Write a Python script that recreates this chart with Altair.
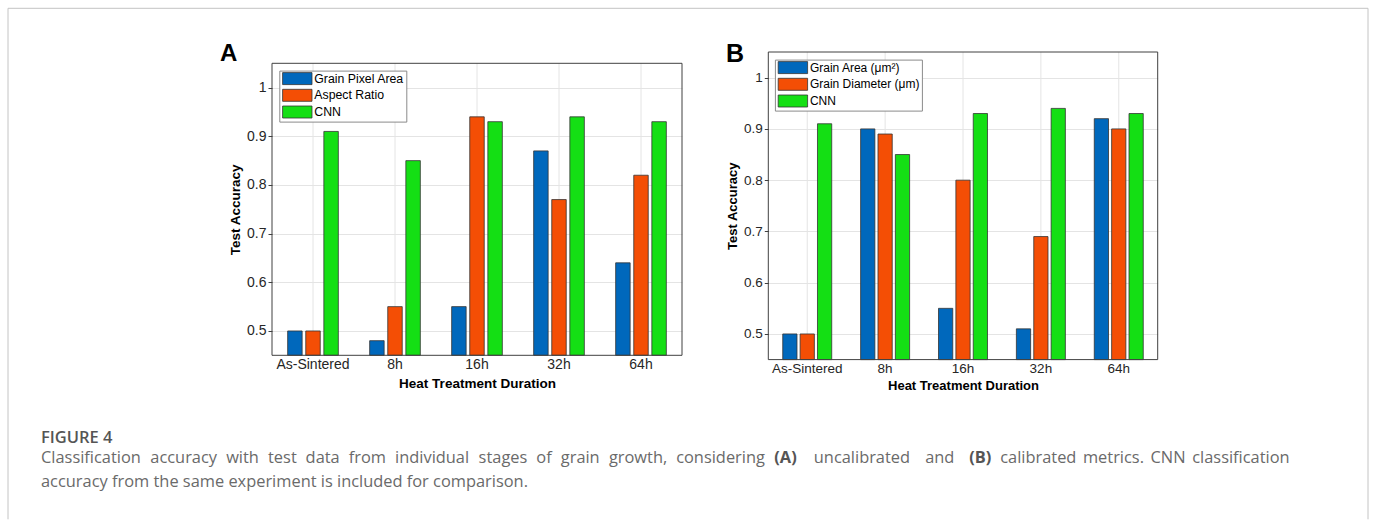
import altair as alt
import pandas as pd

categories = ["As-Sintered", "8h", "16h", "32h", "64h"]

series_a = ["Grain Pixel Area", "Aspect Ratio", "CNN"]
grain_pixel_area = [0.50, 0.48, 0.55, 0.87, 0.64]
aspect_ratio = [0.50, 0.55, 0.94, 0.77, 0.82]
cnn_a = [0.91, 0.85, 0.93, 0.94, 0.93]

series_b = ["Grain Area (μm²)", "Grain Diameter (μm)", "CNN"]
grain_area = [0.50, 0.90, 0.55, 0.51, 0.92]
grain_diameter = [0.50, 0.89, 0.80, 0.69, 0.90]
cnn_b = [0.91, 0.85, 0.93, 0.94, 0.93]

y_ticks = [0.5, 0.6, 0.7, 0.8, 0.9, 1.0]
y_domain = [0.45, 1.05]
bar_colors = ["#0068BC", "#F44E05", "#14DF14"]

x_title = "Heat Treatment Duration"
y_title = "Test Accuracy"

caption_head = "FIGURE 4"
caption_line1 = "Classification accuracy with test data from individual stages of grain growth, considering"
caption_a = "(A)"
caption_mid = "uncalibrated and"
caption_b = "(B)"
caption_end = "calibrated metrics. CNN classification"
caption_line2 = "accuracy from the same experiment is included for comparison."


def long_df(series, value_lists):
    rows = []
    for s, vals in zip(series, value_lists):
        for c, v in zip(categories, vals):
            rows.append({"cat": c, "series": s, "value": v})
    return pd.DataFrame(rows)


df_a = long_df(series_a, [grain_pixel_area, aspect_ratio, cnn_a])
df_b = long_df(series_b, [grain_area, grain_diameter, cnn_b])
df_cats = pd.DataFrame({"cat": categories})
dummy = pd.DataFrame({"d": [0]})

SWATCH = "M-2.45,-1L2.45,-1L2.45,1L-2.45,1Z"
AXIS_FONT = "Liberation Sans"
CAP_FONT = "Open Sans"
CAP_SIZE = 16.4
CAP_COLOR = "#6a6a6a"
BOLD_COLOR = "#555555"
GRID = "#e4e4e4"
FRAME = "#404040"

# approximate advance widths (per 1000 em) of Open Sans, used to justify caption words
_W = {"a": 556, "b": 613, "c": 480, "d": 613, "e": 561, "f": 336, "g": 548, "h": 614,
      "i": 258, "j": 258, "k": 531, "l": 258, "m": 933, "n": 614, "o": 602, "p": 613,
      "q": 613, "r": 409, "s": 477, "t": 352, "u": 614, "v": 500, "w": 778, "x": 520,
      "y": 501, "z": 467, ",": 247, ".": 266, "C": 632, "N": 763, "A": 633, "B": 648,
      "(": 297, ")": 297}


def word_w(word, size, bold=False):
    if bold:
        return 1.5 * size
    return sum(_W.get(ch, 550) for ch in word) / 1000.0 * size


def text_at(txt, x, y, size, color, weight="normal", font=CAP_FONT):
    return alt.Chart(dummy).mark_text(
        text=txt, align="left", baseline="alphabetic", font=font,
        fontSize=size, fontWeight=weight, color=color,
    ).encode(x=alt.value(x), y=alt.value(y))


def justify(tokens, x0, x1, size=CAP_SIZE):
    """x positions of tokens (text, bold) spread with equal gaps from x0 to x1."""
    widths = [word_w(t, size, b) for t, b in tokens]
    gap = (x1 - x0 - sum(widths)) / max(len(tokens) - 1, 1)
    xs, x = [], x0
    for wd in widths:
        xs.append(x)
        x += wd + gap
    return xs


def token_layers(tokens, xs, y):
    out = []
    for (t, b), x in zip(tokens, xs):
        out.append(text_at(t, x, y, CAP_SIZE, BOLD_COLOR if b else CAP_COLOR,
                           "bold" if b else "normal"))
    return out


def x_enc(x_pad, label_size, title_size, label_pad):
    return alt.X(
        "cat:N",
        sort=categories,
        scale=alt.Scale(paddingInner=x_pad, paddingOuter=x_pad / 2),
        axis=alt.Axis(
            title=x_title, labelAngle=0, labelAlign="center", domain=False, grid=False,
            ticks=False, labelPadding=label_pad,
            labelFont=AXIS_FONT, labelFontSize=label_size, labelColor="#262626",
            titleFont=AXIS_FONT, titleFontSize=title_size, titleFontWeight="bold",
            titleColor="#000000", titlePadding=5,
        ),
    )


def bars(df, series, label_size, title_size, label_pad, x_pad, off_pad, legend_x,
         legend_y, legend_size, y_range):
    return alt.Chart(df).mark_bar(stroke="#333333", strokeWidth=0.8).encode(
        x=x_enc(x_pad, label_size, title_size, label_pad),
        xOffset=alt.XOffset(
            "series:N", sort=series,
            scale=alt.Scale(paddingInner=off_pad, paddingOuter=0),
        ),
        y=alt.Y(
            "value:Q",
            scale=alt.Scale(domain=y_domain, nice=False, zero=False, range=y_range),
            axis=alt.Axis(
                title=y_title, values=y_ticks, format=".1~f", domain=False, grid=True,
                gridColor=GRID, tickSize=4, tickColor=FRAME, labelPadding=2,
                labelFont=AXIS_FONT, labelFontSize=label_size, labelColor="#262626",
                titleFont=AXIS_FONT, titleFontSize=title_size, titleFontWeight="bold",
                titleColor="#000000", titlePadding=4,
            ),
        ),
        y2=alt.datum(y_domain[0]),
        fill=alt.Fill(
            "series:N", sort=series,
            scale=alt.Scale(domain=series, range=bar_colors),
            legend=alt.Legend(
                title=None, orient="none", legendX=legend_x, legendY=legend_y,
                symbolType=SWATCH, symbolSize=144, symbolStrokeColor="#333333",
                symbolStrokeWidth=0.8, symbolOffset=10, labelOffset=10.5,
                labelFont=AXIS_FONT, labelFontSize=legend_size, labelColor="#000000",
                labelLimit=0, padding=1.5, rowPadding=-0.3, fillColor="#ffffff",
                strokeColor="#8a8a8a",
            ),
        ),
    )


def vgrid(top, bottom):
    return alt.Chart(df_cats).mark_rule(color=GRID, strokeWidth=1).encode(
        x=alt.X("cat:N", sort=categories, bandPosition=0.5),
        y=alt.value(top), y2=alt.value(bottom),
    )


def frame(w, top, bottom):
    return alt.Chart(dummy).mark_rect(fillOpacity=0, stroke=FRAME, strokeWidth=1).encode(
        x=alt.value(0), x2=alt.value(w), y=alt.value(top), y2=alt.value(bottom)
    )


def rule(x, y, x2=None, y2=None):
    enc = {"x": alt.value(x), "y": alt.value(y)}
    if x2 is not None:
        enc["x2"] = alt.value(x2)
    if y2 is not None:
        enc["y2"] = alt.value(y2)
    return alt.Chart(dummy).mark_rule(color="#c4c4c4", strokeWidth=1).encode(**enc)


# Both views start at page y=50.7 (top of panel B's box).
# Panel A's view: origin at page (271, 50.7); its box spans page y 62 -> 354.
OX, OY = 271, 50.7
A_W, A_H = 410, 354 - OY
A_TOP = 62 - OY

bars_a = bars(df_a, series_a, 14, 13.5, 9, 0.382, 0.2, 7.3, A_TOP + 7.3, 12.3, [A_H, A_TOP])

# caption, line 1 justified in three anchored pieces
y1 = 461.5 - OY
y2 = 486 - OY
A_X, B_X, LINE_END = 773.3 - OX, 968.3 - OX, 1289 - OX
wA = word_w(caption_a, CAP_SIZE, True)
wB = word_w(caption_b, CAP_SIZE, True)
p1 = [(w, False) for w in caption_line1.split()] + [(caption_a, True)]
p2 = [(caption_a, True)] + [(w, False) for w in caption_mid.split()] + [(caption_b, True)]
p3 = [(caption_b, True)] + [(w, False) for w in caption_end.split()]
xs1 = justify(p1, 40 - OX, A_X + wA)
xs2 = justify(p2, A_X, B_X + wB)
xs3 = justify(p3, B_X, LINE_END)

caption_layers = (
    [text_at(caption_head, 40 - OX, 441.5 - OY, 16.5, BOLD_COLOR, 600)]
    + token_layers(p1, xs1, y1)
    + token_layers(p2[1:-1], xs2[1:-1], y1)
    + token_layers(p3, xs3, y1)
    + [text_at(caption_line2, 40 - OX, y2, CAP_SIZE, CAP_COLOR)]
)

panel_a = alt.layer(
    vgrid(A_TOP, A_H),
    bars_a,
    frame(A_W, A_TOP, A_H),
    text_at("A", 219 - OX, 60 - OY, 24, "#000000", "bold", AXIS_FONT),
    rule(7 - OX, 7 - OY, y2=518 - OY),
    rule(7 - OX, 7 - OY, x2=1367 - OX),
    rule(1367 - OX, 7 - OY, y2=518 - OY),
    *caption_layers,
).properties(width=A_W, height=A_H,
             view=alt.ViewBackground(stroke="transparent", strokeWidth=0))

# Panel B: view origin at page (767.3, 50.7)
B_W, B_H = 389.4, 307.6
bars_b = bars(df_b, series_b, 13.5, 13, 8.5, 0.371, 0.18, 6.6, 7.6, 12, [B_H, 0])
panel_b = alt.layer(
    vgrid(0, B_H),
    bars_b,
    frame(B_W, 0, B_H),
    text_at("B", -42.3, 10, 25, "#000000", "bold", AXIS_FONT),
).properties(width=B_W, height=B_H,
             view=alt.ViewBackground(stroke="transparent", strokeWidth=0))

chart = alt.hconcat(panel_a, panel_b, spacing=767.3 - OX - A_W, bounds="flush").resolve_scale(
    color="independent", fill="independent", x="independent", y="independent",
    xOffset="independent",
).properties(
    padding={"left": 7, "top": 7, "right": 6, "bottom": 0},
    background="#ffffff",
).configure_view(stroke="transparent", strokeWidth=0)

chart.save("out.html", embed_options={"renderer": "svg", "actions": False})
